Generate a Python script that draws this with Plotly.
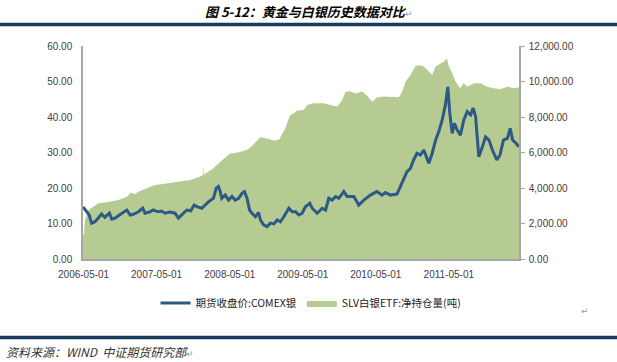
import plotly.graph_objects as go

# ---- data ----
price_dates = [
    "2006-04-28", "2006-05-16", "2006-05-29", "2006-06-10", "2006-06-27", "2006-07-08", "2006-07-30",
    "2006-08-15", "2006-09-07", "2006-09-19", "2006-10-05", "2006-10-22", "2006-11-16", "2006-12-03",
    "2006-12-20", "2007-01-05", "2007-01-30", "2007-02-21", "2007-03-04", "2007-03-29", "2007-04-14",
    "2007-05-09", "2007-05-26", "2007-06-12", "2007-07-07", "2007-08-01", "2007-08-18", "2007-09-04",
    "2007-09-29", "2007-10-19", "2007-11-05", "2007-11-21", "2007-12-13", "2007-12-30", "2008-01-15",
    "2008-02-09", "2008-02-23", "2008-03-05", "2008-03-14", "2008-03-22", "2008-04-08", "2008-04-25",
    "2008-05-12", "2008-05-28", "2008-06-14", "2008-07-01", "2008-07-13", "2008-07-26", "2008-08-08",
    "2008-08-20", "2008-09-06", "2008-09-22", "2008-10-01", "2008-10-17", "2008-11-03", "2008-11-20",
    "2008-12-07", "2008-12-24", "2009-01-09", "2009-01-26", "2009-02-20", "2009-03-09", "2009-03-26",
    "2009-04-11", "2009-04-28", "2009-05-14", "2009-06-05", "2009-06-17", "2009-07-12", "2009-08-06",
    "2009-08-23", "2009-09-08", "2009-09-25", "2009-10-12", "2009-10-28", "2009-11-22", "2009-12-09",
    "2010-01-11", "2010-02-05", "2010-03-02", "2010-04-04", "2010-05-07", "2010-06-01", "2010-06-18",
    "2010-07-13", "2010-08-15", "2010-09-01", "2010-09-17", "2010-10-04", "2010-10-21", "2010-11-06",
    "2010-11-23", "2010-12-10", "2010-12-27", "2011-01-21", "2011-02-07", "2011-02-24", "2011-03-12",
    "2011-03-29", "2011-04-14", "2011-04-26", "2011-05-06", "2011-05-18", "2011-05-29", "2011-06-12",
    "2011-06-28", "2011-07-15", "2011-08-01", "2011-08-18", "2011-08-31", "2011-09-12", "2011-09-20",
    "2011-09-28", "2011-10-16", "2011-11-01", "2011-11-18", "2011-12-05", "2011-12-27", "2012-01-12",
    "2012-01-29", "2012-02-18", "2012-03-03", "2012-03-15", "2012-04-01", "2012-04-16",
]
price_values = [
    14.7, 13.3, 12.4, 10.1, 10.5, 11.2, 12.7,
    11.7, 12.9, 11.2, 11.5, 12.2, 13.2, 13.8,
    12.4, 12.6, 13.3, 14.3, 12.9, 13.3, 13.8,
    13.3, 13.5, 12.9, 13.2, 12.9, 11.5, 12.4,
    13.8, 13.6, 15.2, 14.7, 14.3, 15.2, 16.1,
    17.1, 19.9, 20.4, 19.0, 17.1, 18.0, 16.6,
    17.6, 16.6, 17.1, 18.5, 19.0, 17.1, 13.8,
    12.9, 11.9, 13.1, 11.0, 9.6, 9.1, 10.1,
    9.9, 11.0, 10.5, 11.9, 14.3, 13.3, 13.3,
    12.4, 12.9, 14.7, 15.7, 14.3, 12.9, 14.3,
    13.8, 17.1, 16.6, 17.6, 17.1, 19.0, 17.6,
    17.6, 15.2, 16.6, 18.0, 19.0, 18.0, 18.7,
    18.0, 18.3, 20.4, 22.3, 24.6, 25.5, 27.9,
    29.8, 29.3, 30.7, 27.0, 29.8, 33.5, 35.9,
    39.2, 43.4, 48.5, 41.0, 35.4, 38.2, 36.3,
    34.9, 39.2, 41.5, 40.6, 42.5, 40.1, 34.4,
    28.8, 31.6, 34.4, 33.5, 30.7, 27.9, 29.3,
    33.5, 34.0, 36.8, 33.5, 32.6, 31.6,
]

hold_dates = [
    "2006-04-28", "2006-05-03", "2006-05-08", "2006-05-25", "2006-06-19", "2006-07-14", "2006-08-08",
    "2006-09-11", "2006-10-22", "2006-12-03", "2006-12-23", "2007-01-13", "2007-01-30", "2007-03-13",
    "2007-04-23", "2007-06-03", "2007-07-15", "2007-08-26", "2007-10-15", "2007-11-25", "2007-12-20",
    "2007-12-23", "2007-12-26", "2008-01-06", "2008-02-09", "2008-03-14", "2008-04-16", "2008-05-03",
    "2008-06-05", "2008-07-01", "2008-07-26", "2008-08-20", "2008-09-14", "2008-10-01", "2008-10-26",
    "2008-12-07", "2009-01-01", "2009-01-18", "2009-02-03", "2009-02-20", "2009-02-28", "2009-03-17",
    "2009-04-03", "2009-05-06", "2009-05-23", "2009-06-25", "2009-08-14", "2009-09-16", "2009-10-20",
    "2009-11-14", "2009-12-01", "2009-12-26", "2010-01-20", "2010-02-22", "2010-03-19", "2010-04-13",
    "2010-05-08", "2010-06-10", "2010-08-24", "2010-09-10", "2010-09-27", "2010-10-21", "2010-11-15",
    "2010-12-02", "2010-12-27", "2011-01-21", "2011-02-07", "2011-02-24", "2011-03-21", "2011-04-07",
    "2011-04-21", "2011-05-02", "2011-05-18", "2011-06-04", "2011-06-26", "2011-07-15", "2011-08-01",
    "2011-09-04", "2011-10-07", "2011-11-09", "2011-12-12", "2012-01-14", "2012-02-18", "2012-03-21",
    "2012-04-16",
]
hold_values = [
    1250, 1470, 2200, 2760, 2950, 3140, 3170,
    3230, 3320, 3510, 3740, 3660, 3790, 3980,
    4170, 4230, 4300, 4360, 4450, 4600, 4730,
    5200, 4760, 4860, 5110, 5480, 5800, 5950,
    5990, 6050, 6140, 6370, 6700, 6860, 6800,
    6670, 6700, 7080, 7360, 7930, 8110, 8210,
    8360, 8400, 8680, 8770, 8770, 8680, 8580,
    8960, 9430, 9430, 9330, 9430, 9180, 8860,
    9110, 9150, 9110, 9430, 9990, 10370, 10840,
    10930, 10840, 10560, 10370, 10840, 10990, 11120,
    11310, 10840, 10460, 9990, 9620, 9900, 9710,
    9900, 9900, 9710, 9620, 9560, 9710, 9620,
    9670,
]

x_tick_labels = ["2006-05-01", "2007-05-01", "2008-05-01", "2009-05-01", "2010-05-01", "2011-05-01"]
price_name = "期货收盘价:COMEX银"
hold_name = "SLV白银ETF:净持仓量(吨)"
title_text = "图 5-12：黄金与白银历史数据对比"
source_text = "资料来源：WIND  中证期货研究部"

# ---- styles ----
LINE_COLOR = "#2C5985"
AREA_COLOR = "#B5CB92"
AXIS_COLOR = "#A6A6A6"
TICK_FONT = dict(family="Liberation Sans, Arial, sans-serif", size=10, color="#404040")
CJK = "Noto Sans CJK SC"
NAVY = "#173A5E"

fig = go.Figure()
fig.add_trace(go.Scatter(
    x=hold_dates, y=hold_values, name=hold_name, mode="lines",
    fill="tozeroy", fillcolor=AREA_COLOR, line=dict(width=0, color=AREA_COLOR),
    yaxis="y", legendrank=2,
))
fig.add_trace(go.Scatter(
    x=price_dates, y=price_values, name=price_name, mode="lines",
    line=dict(width=3, color=LINE_COLOR), yaxis="y2", legendrank=1,
))

fig.update_layout(
    width=617, height=362,
    margin=dict(l=83, r=98, t=46, b=103),
    paper_bgcolor="white", plot_bgcolor="white",
    showlegend=True,
    legend=dict(orientation="h", x=0.523, xanchor="center", y=-0.207, yanchor="middle",
                font=dict(family=CJK, size=10.5, color="#222222"),
                bgcolor="rgba(0,0,0,0)", itemwidth=30, tracegroupgap=0),
    xaxis=dict(type="date", range=["2006-04-28", "2012-04-16"],
               tickvals=x_tick_labels, ticktext=x_tick_labels,
               showline=True, linecolor=AXIS_COLOR, linewidth=1.5, ticks="",
               showgrid=False, zeroline=False, tickfont=TICK_FONT, ticklabelstandoff=5),
    yaxis=dict(side="right", range=[0, 12000], dtick=2000, tickformat=",.2f",
               showline=True, linecolor=AXIS_COLOR, linewidth=1.5,
               ticks="outside", ticklen=4, tickcolor=AXIS_COLOR,
               showgrid=False, zeroline=False, tickfont=TICK_FONT, ticklabelstandoff=2),
    yaxis2=dict(overlaying="y", side="left", range=[0, 60], dtick=10, tickformat=".2f",
                showline=True, linecolor=AXIS_COLOR, linewidth=1.5, ticks="",
                showgrid=False, zeroline=False, tickfont=TICK_FONT, ticklabelstandoff=7),
)

def py(pix):
    return (259 - pix) / 213.0

def px(pix):
    return (pix - 83) / 436.0

fig.add_annotation(
    text="<b><i>" + title_text + "</i></b><span style='font-size:9px;color:#999999'>↵</span>",
    xref="paper", yref="paper", x=px(309), y=py(12), xanchor="center", yanchor="middle",
    showarrow=False, font=dict(family=CJK, size=13, color="#000000"))
fig.add_annotation(
    text="<i>" + source_text + "</i><span style='font-size:9px;color:#999999'>↵</span>",
    xref="paper", yref="paper", x=px(4), y=py(351), xanchor="left", yanchor="middle",
    showarrow=False, font=dict(family=CJK, size=12, color="#333333"))
fig.add_annotation(
    text="↵", xref="paper", yref="paper", x=px(585), y=py(311), xanchor="center", yanchor="middle",
    showarrow=False, font=dict(family="DejaVu Sans", size=9, color="#999999"))

for ypix in (24.5, 337.5):
    fig.add_shape(type="line", xref="paper", yref="paper",
                  x0=px(0), x1=px(617), y0=py(ypix), y1=py(ypix),
                  line=dict(color=NAVY, width=3.5))

fig.write_html("out.html", config={"displayModeBar": False},
               post_script="document.body.style.margin='0px';")
